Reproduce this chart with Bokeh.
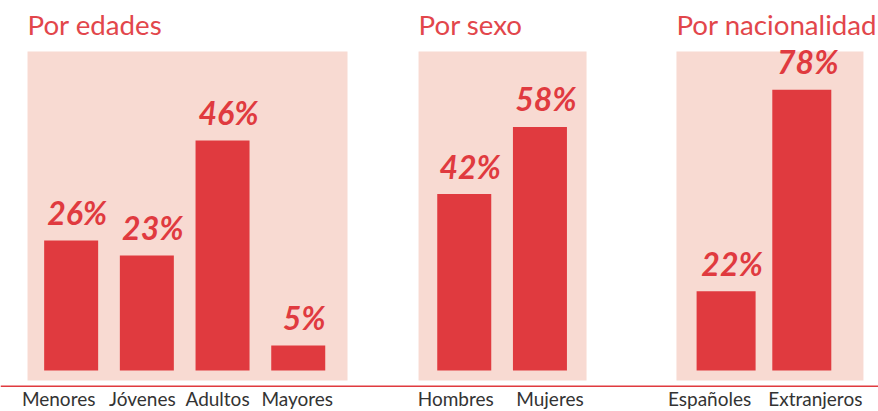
from bokeh.plotting import figure
from bokeh.models import FactorRange, Range1d, Span, ColumnDataSource
from bokeh.embed import file_html
from bokeh.resources import INLINE
from bokeh.core.properties import value

# ---------------- data ----------------
groups = ["edades", "sexo", "nacionalidad"]
titles = ["Por edades", "Por sexo", "Por nacionalidad"]
edades_cats = ["Menores", "Jóvenes", "Adultos", "Mayores"]
edades_vals = [26, 23, 46, 5]
sexo_cats = ["Hombres", "Mujeres"]
sexo_vals = [42, 58]
nac_cats = ["Españoles", "Extranjeros"]
nac_vals = [22, 78]

cats_by_group = [edades_cats, sexo_cats, nac_cats]
vals_by_group = [edades_vals, sexo_vals, nac_vals]

# ---------------- layout / style ----------------
W, H = 878, 411
F_PAD, G_PAD, R_PAD = 0.35, 2.148, 0.8065
U = W / (8 + 2 * G_PAD + 5 * F_PAD + 2 * R_PAD)   # px per factor unit

group_shift_px = [-2.6, -13.1, -3.45]
bar_width_px = [54, 54, 59]
panel_center_rel_px = [116.35, 38.3, 43.85]
panel_width_px = [320, 168, 187]
panel_left_rel_px = [-43.65, -45.7, -49.65]
px_per_pct = [5.0, 4.2, 3.6]
label_dx = [[-12.5, -4.5, -5, -1], [-8.5, 10], [-16.5, 13.5]]

BAR_BASE = 41
PANEL_BOTTOM, PANEL_TOP = 31, 360
LINE_Y = 25.3
LABEL_Y = 13
TITLE_Y = 387
PCT_OFFSET = -28

PINK = "#f8dad2"
RED = "#e03a3f"
TITLE_RED = "#e2464b"
GRAY = "#333333"

factors = [(g, c) for g, cats in zip(groups, cats_by_group) for c in cats]

p = figure(width=W, height=H,
           x_range=FactorRange(*factors, factor_padding=F_PAD, group_padding=G_PAD,
                               range_padding=R_PAD, range_padding_units="absolute"),
           y_range=Range1d(0, H),
           output_backend="svg", toolbar_location=None,
           x_axis_location=None, y_axis_location=None, min_border=0)
p.grid.visible = False
p.outline_line_color = None
p.background_fill_color = "white"
p.border_fill_color = "white"

for k, (g, cats, vals) in enumerate(zip(groups, cats_by_group, vals_by_group)):
    sh = group_shift_px[k] / U
    yname = f"y{k}"
    s = px_per_pct[k]
    p.extra_y_ranges[yname] = Range1d(-BAR_BASE / s, (H - BAR_BASE) / s)

    # pink panel
    p.vbar(x=[(g, cats[0], sh + panel_center_rel_px[k] / U)],
           width=panel_width_px[k] / U, bottom=PANEL_BOTTOM, top=PANEL_TOP,
           fill_color=PINK, line_color=None)

    src = ColumnDataSource(dict(
        x=[(g, c, sh) for c in cats],
        top=vals,
        txt=[f"{v}%" for v in vals],
        dx=label_dx[k],
        name=cats,
    ))
    p.vbar(x="x", top="top", bottom=0, width=bar_width_px[k] / U, source=src,
           y_range_name=yname, fill_color=RED, line_color=None)
    p.text(x="x", y="top", text="txt", source=src, y_range_name=yname,
           x_offset=6, y_offset=PCT_OFFSET, text_align="center", text_baseline="alphabetic",
           text_font=value("Lato"), text_font_style="bold italic",
           text_font_size="32px", text_color=RED)
    p.text(x="x", y=LABEL_Y, text="name", source=src, x_offset="dx",
           text_align="center", text_baseline="alphabetic",
           text_font=value("Lato"), text_font_size="19px", text_color=GRAY)

    # title
    p.text(x=[(g, cats[0], sh + panel_left_rel_px[k] / U)], y=[TITLE_Y], text=[titles[k]],
           text_align="left", text_baseline="alphabetic",
           text_font=value("Lato"), text_font_size="27.7px", text_color=TITLE_RED)

p.add_layout(Span(location=LINE_Y, dimension="width", line_color=RED, line_width=1.5))

with open("out.html", "w", encoding="utf-8") as f:
    f.write(file_html(p, INLINE))
